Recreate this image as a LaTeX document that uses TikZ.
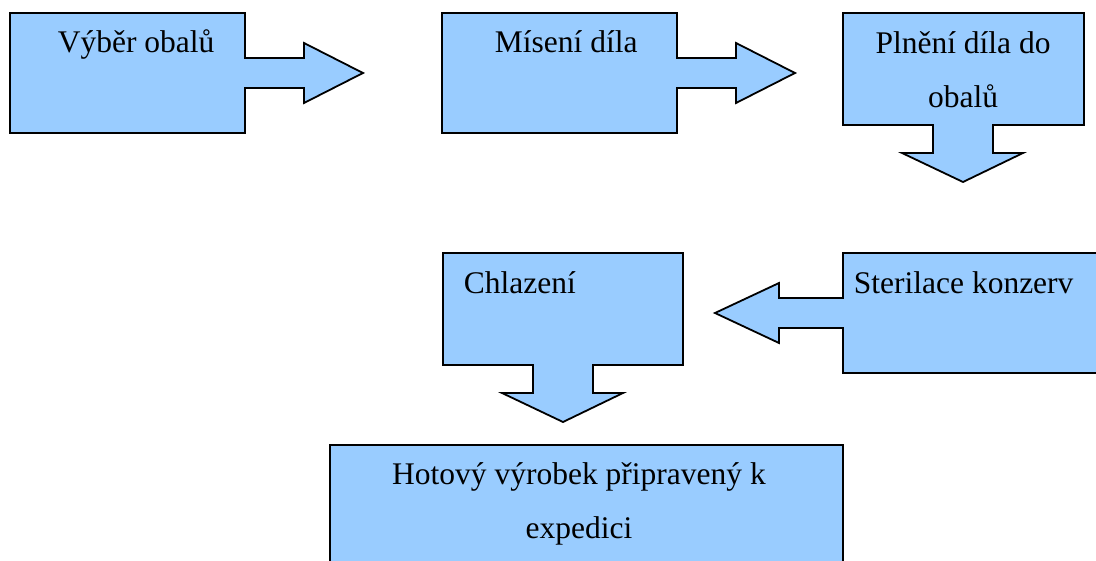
\documentclass[tikz,border=0pt]{standalone}
\usepackage{fontspec}
\setmainfont{Liberation Serif}
\usepackage{tikz}
\usetikzlibrary{positioning}
\definecolor{boxblue}{HTML}{99CCFF}

\begin{document}
\begin{tikzpicture}[x=0.5pt, y=-0.5pt, line width=0.9pt, line join=miter,step shape/.style={draw=black,fill=boxblue},step text/.style={font=\fontsize{15.75}{27}\selectfont,inner sep=0pt,anchor=base west},step two/.style={font=\fontsize{15.75}{27}\selectfont,inner sep=0pt,align=center,anchor=base}]
\useasboundingbox (0,0) rectangle (1096,561);
\clip (0,0) rectangle (1096,561);
\begin{scope}
% boxes with their arrows
\draw[step shape] (10,13) -- (245,13) -- (245,58) -- (304,58) -- (304,43) -- (363,73) -- (304,103) -- (304,88) -- (245,88) -- (245,133) -- (10,133) -- cycle;
\draw[step shape] (442,13) -- (677,13) -- (677,58) -- (736,58) -- (736,43) -- (795,73) -- (736,103) -- (736,88) -- (677,88) -- (677,133) -- (442,133) -- cycle;
\draw[step shape] (843,13) -- (1084,13) -- (1084,125) -- (993,125) -- (993,153) -- (1023,153) -- (963,182) -- (902,153) -- (933,153) -- (933,125) -- (843,125) -- cycle;
\draw[step shape] (843,253) -- (1110,253) -- (1110,373) -- (843,373) -- (843,328) -- (779,328) -- (779,343) -- (715,313) -- (779,283) -- (779,298) -- (843,298) -- cycle;
\draw[step shape] (443,253) -- (683,253) -- (683,365) -- (593,365) -- (593,393) -- (623,393) -- (563,422) -- (502,393) -- (533,393) -- (533,365) -- (443,365) -- cycle;
\draw[step shape] (330,445) rectangle (843,600);
\end{scope}
\begin{scope}
% two-line texts sit on their last baseline
\node[step text] (vyber) at (57,53) {Výběr obalů};
\node[step text] (miseni) at (494,53) {Mísení díla};
\node[step two] (plneni) at (963,108) {Plnění díla do\\obalů};
\node[step text] (sterilace) at (853,293) {Sterilace konzerv};
\node[step text] (chlazeni) at (463,293) {Chlazení};
\node[step two] (hotovy) at (579,538) {Hotový výrobek připravený k\\expedici};
\end{scope}
\end{tikzpicture}
\end{document}
